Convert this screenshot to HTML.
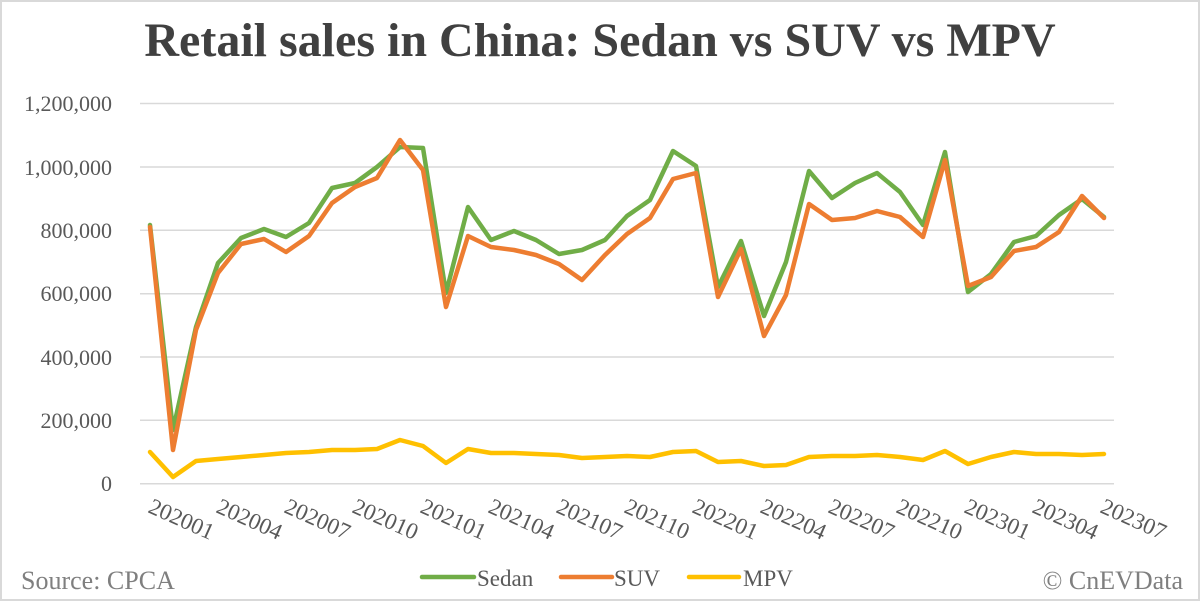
<!DOCTYPE html>
<html><head><meta charset="utf-8"><style>
html,body{margin:0;padding:0;background:#fff}
svg{display:block}
text{font-family:"Liberation Serif",serif}
</style></head><body>
<svg width="1200" height="601" viewBox="0 0 1200 601" xmlns="http://www.w3.org/2000/svg">
<rect x="1" y="1" width="1198" height="599" fill="#fff" stroke="#d9d9d9" stroke-width="2"/>
<text x="600" y="56" text-anchor="middle" font-size="48" font-weight="bold" fill="#404040">Retail sales in China: Sedan vs SUV vs MPV</text>
<g stroke="#d9d9d9" stroke-width="1.5">
<line x1="140" x2="1114" y1="103.5" y2="103.5"/>
<line x1="140" x2="1114" y1="167" y2="167"/>
<line x1="140" x2="1114" y1="230.3" y2="230.3"/>
<line x1="140" x2="1114" y1="293.7" y2="293.7"/>
<line x1="140" x2="1114" y1="357" y2="357"/>
<line x1="140" x2="1114" y1="420.3" y2="420.3"/>
<line x1="140" x2="1114" y1="483.7" y2="483.7"/>
</g>
<g font-size="22" fill="#595959" text-anchor="end">
<text x="112" y="111">1,200,000</text>
<text x="112" y="175">1,000,000</text>
<text x="112" y="238">800,000</text>
<text x="112" y="301">600,000</text>
<text x="112" y="365">400,000</text>
<text x="112" y="428">200,000</text>
<text x="112" y="491">0</text>
</g>
<g font-size="23" fill="#595959">
<text transform="translate(147,512) rotate(24)">202001</text>
<text transform="translate(215,512) rotate(24)">202004</text>
<text transform="translate(283,512) rotate(24)">202007</text>
<text transform="translate(351,512) rotate(24)">202010</text>
<text transform="translate(419,512) rotate(24)">202101</text>
<text transform="translate(487,512) rotate(24)">202104</text>
<text transform="translate(555,512) rotate(24)">202107</text>
<text transform="translate(623,512) rotate(24)">202110</text>
<text transform="translate(691,512) rotate(24)">202201</text>
<text transform="translate(759,512) rotate(24)">202204</text>
<text transform="translate(827,512) rotate(24)">202207</text>
<text transform="translate(895,512) rotate(24)">202210</text>
<text transform="translate(963,512) rotate(24)">202301</text>
<text transform="translate(1031,512) rotate(24)">202304</text>
<text transform="translate(1099,512) rotate(24)">202307</text>
</g>
<g fill="none" stroke-width="4.5" stroke-linejoin="round" stroke-linecap="round">
<polyline stroke="#ffc000" points="150,452 173,477 196,461 218,459 241,457 264,455 286,453 309,452 332,450 355,450 377,449 400,440 423,446 446,463 468,449 491,453 514,453 536,454 559,455 582,458 605,457 627,456 650,457 673,452 696,451 718,462 741,461 764,466 786,465 809,457 832,456 855,456 877,455 900,457 923,460 945,451 968,464 991,457 1014,452 1036,454 1059,454 1082,455 1104,454"/>
<polyline stroke="#70ad47" points="150,225 173,430 196,327 218,263 241,238 264,229 286,237 309,223 332,188 355,183 377,167 400,147 423,148 446,293 468,207 491,240 514,231 536,240 559,254 582,250 605,240 627,216 650,200 673,151 696,166 718,287 741,241 764,316 786,262 809,171 832,198 855,183 877,173 900,192 923,225 945,152 968,292 991,274 1014,242 1036,236 1059,215 1082,199 1104,217"/>
<polyline stroke="#ed7d31" points="150,227 173,450 196,330 218,273 241,244 264,239 286,252 309,236 332,203 355,187 377,178 400,140 423,170 446,307 468,236 491,247 514,250 536,255 559,264 582,280 605,255 627,234 650,218 673,179 696,173 718,297 741,249 764,336 786,295 809,204 832,220 855,218 877,211 900,217 923,237 945,160 968,286 991,277 1014,251 1036,247 1059,232 1082,196 1104,218"/>
</g>
<text x="21" y="589" font-size="26" fill="#7f7f7f">Source: CPCA</text>
<text x="1183" y="589" font-size="26" fill="#7f7f7f" text-anchor="end">© CnEVData</text>
<g stroke-width="4.5" stroke-linecap="round">
<line x1="422" x2="474" y1="577" y2="577" stroke="#70ad47"/>
<line x1="561" x2="612" y1="577" y2="577" stroke="#ed7d31"/>
<line x1="689" x2="739" y1="577" y2="577" stroke="#ffc000"/>
</g>
<g font-size="23" fill="#595959">
<text x="477" y="586">Sedan</text>
<text x="614" y="586">SUV</text>
<text x="743" y="586">MPV</text>
</g>
</svg>
</body></html>
